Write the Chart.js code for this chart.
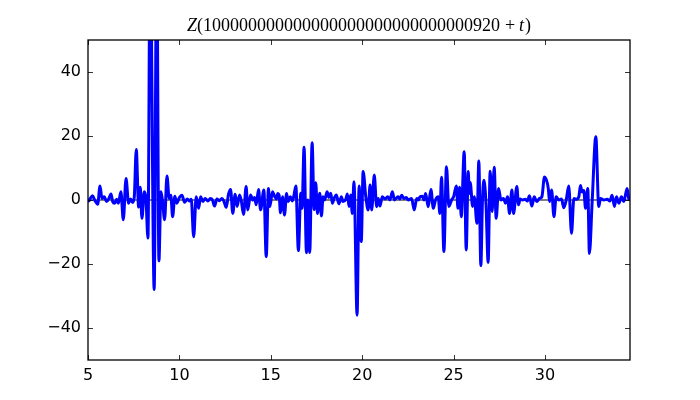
<!DOCTYPE html>
<html>
<head>
<meta charset="utf-8">
<script src="https://cdn.jsdelivr.net/npm/chart.js@4"></script>
<style>
  html, body { margin: 0; padding: 0; background: #fff; }
  #wrap { width: 700px; height: 400px; }
</style>
</head>
<body>
<div id="wrap"><canvas id="zChart" width="700" height="400"></canvas></div>
<script>
// -------------------------------
// Data
// -------------------------------
const tValues = [
    5.0, 5.04, 5.16, 5.25, 5.38, 5.53, 5.66, 5.76, 5.89, 6.02, 6.13, 6.26, 6.35, 6.46, 6.57, 6.66,
    6.8, 6.93, 7.08, 7.22, 7.33, 7.44, 7.53, 7.64, 7.77, 7.86, 7.95, 8.08, 8.17, 8.28, 8.4, 8.62,
    8.76, 8.88, 8.99, 9.08, 9.19, 9.32, 9.44, 9.53, 9.63, 9.75, 9.86, 10.0, 10.14, 10.28, 10.43,
    10.56, 10.65, 10.78, 10.92, 11.05, 11.16, 11.29, 11.41, 11.56, 11.69, 11.81, 11.92, 12.05,
    12.2, 12.32, 12.43, 12.56, 12.69, 12.8, 12.92, 13.05, 13.16, 13.29, 13.38, 13.51, 13.65,
    13.74, 13.89, 14.02, 14.11, 14.2, 14.33, 14.44, 14.62, 14.75, 14.87, 14.95, 15.09, 15.22,
    15.31, 15.38, 15.455, 15.53, 15.64, 15.75, 15.86, 15.95, 16.07, 16.18, 16.26, 16.37, 16.51,
    16.64, 16.71, 16.82, 16.95, 17.02, 17.13, 17.26, 17.37, 17.46, 17.55, 17.68, 17.77, 17.86,
    17.95, 18.08, 18.17, 18.28, 18.37, 18.46, 18.59, 18.72, 18.86, 18.95, 19.1, 19.19, 19.28,
    19.37, 19.46, 19.55, 19.72, 19.83, 19.95, 20.05, 20.2, 20.33, 20.43, 20.52, 20.66, 20.79,
    20.88, 20.97, 21.1, 21.25, 21.39, 21.52, 21.65, 21.76, 21.86, 21.97, 22.06, 22.16, 22.28,
    22.41, 22.52, 22.7, 22.85, 22.98, 23.07, 23.16, 23.29, 23.38, 23.47, 23.61, 23.76, 23.89,
    24.01, 24.16, 24.25, 24.34, 24.47, 24.61, 24.74, 24.89, 25.0, 25.15, 25.24, 25.33, 25.42,
    25.58, 25.69, 25.8, 25.86, 25.91, 26.04, 26.13, 26.28, 26.38, 26.49, 26.58, 26.66, 26.77,
    26.89, 27.0, 27.11, 27.22, 27.33, 27.46, 27.59, 27.73, 27.84, 27.95, 28.06, 28.19, 28.28,
    28.46, 28.55, 28.64, 28.77, 28.92, 29.04, 29.15, 29.28, 29.41, 29.55, 29.7, 29.83, 29.97,
    30.18, 30.25, 30.36, 30.49, 30.61, 30.76, 30.9, 31.03, 31.16, 31.3, 31.45, 31.58, 31.71,
    31.85, 31.94, 32.03, 32.12, 32.22, 32.34, 32.43, 32.58, 32.78, 32.94, 33.04, 33.22, 33.4,
    33.55, 33.67, 33.8, 33.91, 34.04, 34.18, 34.31, 34.49, 34.58, 34.65
];
const zValues = [
    0.5, -0.3, 0.8, 1.3, -0.2, -1.3, 4.4, 0.5, 1, -0.5, 0.3, 1.9, -0.5, -1, 0.2, -1,
    2.6, -6.2, 6.7, -1, 0.3, -0.8, 0.8, 15.8, -2.2, 4, -5.7, 2.6, 0.5, -11.9, 80, -28,
    80, -19, 2.6, -0.5, -6.2, 7.5, 0.5, 1.5, -5.2, 1.2, -1, 0.8, 1.5, -0.7, 0.3,
    -0.3, 0.2, -11.5, 1, -2.6, 1, -0.5, 0.5, -0.3, 0.5, 0, -1.9, 0.3,
    -0.2, 0.5, -0.3, -2.3, 1.9, 3.3, -4.2, 1.8, -2, 1.6, 0, -4.5, 4.2,
    -3.1, 1.6, 0, 0.8, -1.5, 3.3, -3.1, 3.1, -17.7, 3.6, -2, 2.6, 1,
    0.3, 2, 1.5, -4, 1, -4.7, 2, -0.5, 1, -0.3, 1.2, 4.4, -15.8,
    2.1, -2.6, 16.5, -16.5, 0, -16.4, 17.9, -3, 5.4, -4.2, 2.1, -5, 1,
    0, 2.6, 0.8, 2.1, -1, 0.5, 1.6, -1.2, 1, -0.5, 0.2, 1.9, -2,
    1.6, -4.2, 5.7, -36, 4.4, -13, 8.9, 0.8, -3.1, 4.7, -3.1, 7.8, -2.1,
    0.5, -1.9, 1, 0.3, 1, 0, 2.6, 0, 0.6, 1, 0.3, 1.5, 0.5,
    0.8, 0, 0.5, -3.1, 0.5, 0, 1, 1.2, 0, 2, -2.1, 3.3, -2.6,
    0, 1, -4.2, 7.1, -16.1, 10.4, -2, 0, 1, 4.4, -2.6, 4, -5.2,
    15.1, -15.6, 8.9, 2, 5.5, -2, 1, -7.3, 12.2, -20.5, 0, 6.2, -1,
    -19.5, 9, -3.6, 10.2, -5.7, 3.6, 0, 0.5, -1, 1, -4.2, 3.1, -4.2,
    4.2, -1.5, 0.3, 0, 0.2, -0.3, 1.3, -1.9, 1, -0.5, 0.5, 1, 7.2,
    3.6, -0.5, 3.1, -5.2, 1, 0, 0.3, -2.4, 0, 4.4, -10.4, 0.5, 0.2,
    1, 4.5, 2.5, 3, -2.6, 3.6, -16.7, -0.5, 19.8, -2, 0.5, 0, 0.2,
    -0.3, 1.5, -2, 1, -1, 1, -0.5, 3.6, 0.5, 0
];
const xTicks = [5, 10, 15, 20, 25, 30];
const yTicks = [-40, -20, 0, 20, 40];
const xRange = [5, 34.65];
const yRange = [-50, 50];
const zeroLine = [0, 0];
const titleDigits = "100000000000000000000000000000920";

// -------------------------------
// Frame, inward ticks and title (matplotlib look)
// -------------------------------
const frameAndTitle = {
    id: "frameAndTitle",
    afterDatasetsDraw(chart) {
        const { ctx, chartArea: a, scales } = chart;
        ctx.save();
        ctx.strokeStyle = "#000";
        ctx.lineWidth = 0.8;
        ctx.beginPath();
        xTicks.forEach(v => {
            const px = Math.round(scales.x.getPixelForValue(v)) + 0.5;
            ctx.moveTo(px, a.bottom); ctx.lineTo(px, a.bottom - 5);
            ctx.moveTo(px, a.top); ctx.lineTo(px, a.top + 5);
        });
        yTicks.forEach(v => {
            const py = Math.round(scales.y.getPixelForValue(v)) + 0.5;
            ctx.moveTo(a.left, py); ctx.lineTo(a.left + 5, py);
            ctx.moveTo(a.right, py); ctx.lineTo(a.right - 5, py);
        });
        ctx.stroke();
        ctx.lineWidth = 1.3;
        ctx.strokeRect(a.left, a.top, a.right - a.left, a.bottom - a.top);
        ctx.restore();
    },
    afterDraw(chart) {
        const { ctx, chartArea: a } = chart;
        const parts = [
            ["italic 18px 'Liberation Serif'", "Z", 0],
            ["18px 'Liberation Serif'", "(" + titleDigits, 0],
            ["18px 'Liberation Serif'", "+", 5],
            ["italic 18px 'Liberation Serif'", "t", 4],
            ["18px 'Liberation Serif'", ")", 1]
        ];
        ctx.save();
        ctx.fillStyle = "#000";
        ctx.textBaseline = "alphabetic";
        let total = 0;
        parts.forEach(p => { ctx.font = p[0]; total += p[2] + ctx.measureText(p[1]).width; });
        let x = (a.left + a.right) / 2 - total / 2;
        parts.forEach(p => {
            ctx.font = p[0];
            x += p[2];
            ctx.fillText(p[1], x, 31);
            x += ctx.measureText(p[1]).width;
        });
        ctx.restore();
    }
};

const ctx = document.getElementById("zChart").getContext("2d");
new Chart(ctx, {
    type: "line",
    data: {
        datasets: [{
            data: tValues.map((t, i) => ({ x: t, y: zValues[i] })),
            borderColor: "#0000ff",
            borderWidth: 3,
            pointRadius: 0,
            fill: false,
            cubicInterpolationMode: "monotone",
            clip: 0
        }, {
            data: xRange.map((t, i) => ({ x: t, y: zeroLine[i] })),
            borderColor: "#000",
            borderWidth: 1,
            pointRadius: 0,
            fill: false
        }]
    },
    options: {
        responsive: false,
        animation: false,
        layout: { padding: { left: 0, right: 70, top: 40, bottom: 0 } },
        plugins: { legend: { display: false }, tooltip: { enabled: false }, title: { display: false } },
        scales: {
            x: {
                type: "linear",
                min: xRange[0],
                max: xRange[1],
                grid: { display: false, drawTicks: false },
                border: { display: false },
                afterBuildTicks: s => { s.ticks = xTicks.map(v => ({ value: v })); },
                afterFit: s => { s.height = 40; },
                ticks: {
                    padding: 6,
                    maxRotation: 0,
                    color: "#000",
                    font: { family: "'DejaVu Sans'", size: 16 }
                }
            },
            y: {
                min: yRange[0],
                max: yRange[1],
                grid: { display: false, drawTicks: false },
                border: { display: false },
                afterBuildTicks: s => { s.ticks = yTicks.map(v => ({ value: v })); },
                afterFit: s => { s.width = 88; },
                ticks: {
                    padding: 7,
                    color: "#000",
                    font: { family: "'DejaVu Sans'", size: 16 },
                    callback: v => String(v).replace("-", "\u2212")
                }
            }
        }
    },
    plugins: [frameAndTitle]
});
</script>
</body>
</html>
